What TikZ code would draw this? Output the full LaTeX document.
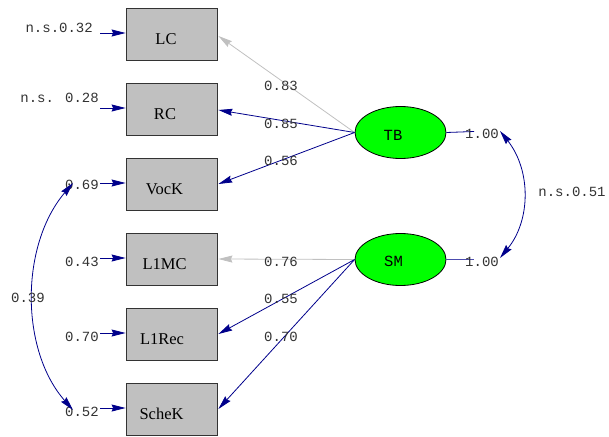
\documentclass[tikz,border=0pt]{standalone}
\usepackage{fontspec}
\setmainfont{Liberation Serif}
\newfontfamily\monof{Liberation Mono}
\usetikzlibrary{arrows.meta,shapes.geometric,calc}
\definecolor{navy}{RGB}{0,0,139}
\definecolor{lgray}{RGB}{192,192,192}
\definecolor{boxgray}{RGB}{192,192,192}
\definecolor{lblgray}{RGB}{50,50,50}
\definecolor{lgreen}{RGB}{0,255,0}
\tikzset{
  obs/.style={draw=black!80, fill=boxgray, minimum width=91pt, minimum height=52pt, inner sep=0pt, line width=0.8pt},
  obslbl/.style={font=\fontsize{16.5}{16.5}\selectfont, inner sep=0pt},
  lat/.style={draw=black, fill=lgreen, ellipse, minimum width=91pt, minimum height=52pt, inner sep=0pt, line width=0.8pt},
  latlbl/.style={font=\monof\fontsize{15.5}{15.5}\selectfont, inner sep=0pt},
  val/.style={font=\monof\fontsize{14}{14}\selectfont, text=lblgray, inner sep=0pt},
  tip/.style={-{Stealth[length=14pt,width=7pt,inset=1.5pt]}},
  path1/.style={tip, draw=navy, line width=0.8pt},
  path0/.style={tip, draw=lgray, line width=0.8pt},
  cov/.style={{Stealth[length=14pt,width=7pt,inset=1.5pt]}-{Stealth[length=14pt,width=7pt,inset=1.5pt]}, draw=navy, line width=0.8pt},
}
\begin{document}
\begin{tikzpicture}[x=1pt,y=-1pt]
\useasboundingbox (0,0) rectangle (609,436);
% observed
\node[obs] (LC) at (171.5,34) {};
\node[obs] (RC) at (171.5,109) {};
\node[obs] (VocK) at (171.5,184) {};
\node[obs] (L1MC) at (171.5,259) {};
\node[obs] (L1Rec) at (171.5,334) {};
\node[obs] (ScheK) at (171.5,409) {};
\node[obslbl] (tLC) at (166,39) {LC};
\node[obslbl] (tRC) at (165,114) {RC};
\node[obslbl] (tVocK) at (164.5,189) {VocK};
\node[obslbl] (tL1MC) at (164.5,264) {L1MC};
\node[obslbl] (tL1Rec) at (162,339) {L1Rec};
\node[obslbl] (tScheK) at (161.5,414) {ScheK};
% latent
\node[lat] (TB) at (400.5,132.5) {};
\node[lat] (SM) at (400.5,259.5) {};
\node[latlbl] (tTB) at (393,135) {TB};
\node[latlbl] (tSM) at (393.5,261.5) {SM};
% loadings
\draw[path0] (TB.west) -- ($(LC.east)+(1,2)$);
\draw[path1] (TB.west) -- ($(RC.east)+(1,1)$);
\draw[path1] (TB.west) -- ($(VocK.east)+(1,0)$);
\draw[path0] (SM.west) -- ($(L1MC.east)+(1,0)$);
\draw[path1] (SM.west) -- ($(L1Rec.east)+(1,0)$);
\draw[path1] (SM.west) -- ($(ScheK.east)+(1,0)$);
\node[val] (l1) at (281,86) {0.83};
\node[val] (l2) at (281,124) {0.85};
\node[val] (l3) at (281,161) {0.56};
\node[val] (l4) at (281,262) {0.76};
\node[val] (l5) at (281,299) {0.55};
\node[val] (l6) at (281,337) {0.70};
% error terms
\coordinate (e1) at (100,33);
\coordinate (e2) at (100,108);
\coordinate (e3) at (100,183);
\coordinate (e4) at (100,258);
\coordinate (e5) at (100,333);
\coordinate (e6) at (100,408);
\draw[path1] (e1) -- (LC.west |- e1);
\draw[path1] (e2) -- (RC.west |- e2);
\draw[path1] (e3) -- (VocK.west |- e3);
\draw[path1] (e4) -- (L1MC.west |- e4);
\draw[path1] (e5) -- (L1Rec.west |- e5);
\draw[path1] (e6) -- (ScheK.west |- e6);
\node[val, anchor=east] (v1) at (93,28) {n.s.0.32};
\node[val, anchor=east] (v2) at (99,98) {n.s. 0.28};
\node[val, anchor=east] (v3) at (99,185) {0.69};
\node[val, anchor=east] (v4) at (99,262) {0.43};
\node[val, anchor=east] (v5) at (99,337) {0.70};
\node[val, anchor=east] (v6) at (99,412) {0.52};
% left covariance
\coordinate (c1) at (73,183);
\coordinate (c2) at (73,410);
\draw[cov] (c1) .. controls (20,245) and (20,350) .. (c2);
\node[val] (v7) at (28,298) {0.39};
% latent variances
\coordinate (r1) at (474,131.5);
\coordinate (r2) at (474,259.5);
\draw[draw=navy, line width=0.8pt] (TB.east) -- (r1);
\draw[draw=navy!70, line width=1.2pt] (SM.east) -- (r2);
\node[val] (u1) at (482,134) {1.00};
\node[val] (u2) at (482,262) {1.00};
\coordinate (d1) at (500,131);
\coordinate (d2) at (500,258);
\draw[cov] (d1) .. controls (531,170) and (531,220) .. (d2);
\node[val] (u3) at (572,192) {n.s.0.51};
\end{tikzpicture}
\end{document}
